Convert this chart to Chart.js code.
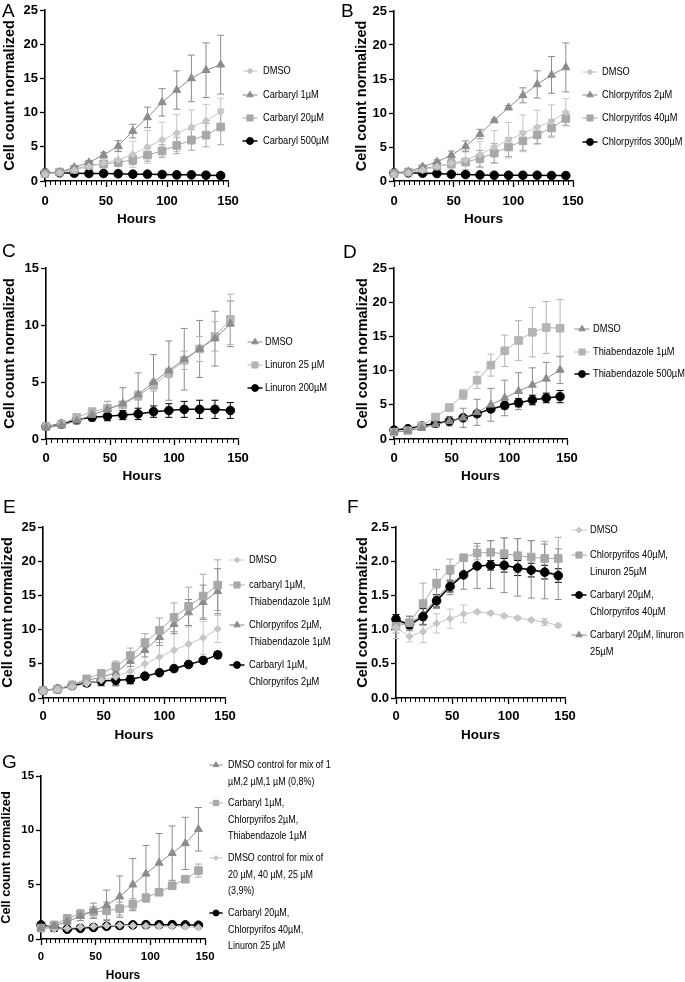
<!DOCTYPE html>
<html>
<head>
<meta charset="utf-8">
<script src="https://cdn.jsdelivr.net/npm/chart.js@4.4.1/dist/chart.umd.min.js"></script>
<style>
  html, body { margin: 0; padding: 0; background: #fff; overflow: hidden; }
  #page { position: relative; width: 685px; height: 982px; overflow: hidden; }
  .panel { position: absolute; }
</style>
</head>
<body>
<div id="page"></div>
<script>
/* ---- data ---- */
const hours = [0, 12, 24, 36, 48, 60, 72, 84, 96, 108, 120, 132, 144];

const dmsoMean = [1.0, 1.2, 1.6, 2.1, 2.6, 3.1, 3.9, 5.0, 6.0, 7.0, 7.9, 8.8, 10.1];
const dmsoSd   = [0.1, 0.15, 0.3, 0.4, 0.7, 1.4, 1.9, 2.4, 2.6, 2.7, 2.5, 2.4, 2.0];
const dmso39Mean = [1.03, 0.9, 0.97, 1.09, 1.16, 1.23, 1.26, 1.24, 1.2, 1.17, 1.14, 1.11, 1.06];
const dmso39Sd   = [0.16, 0.08, 0.16, 0.14, 0.14, 0.13, 0.02, 0.02, 0.02, 0.02, 0.02, 0.05, 0.02];

const carb1Mean   = [1.2, 1.3, 2.0, 2.7, 3.8, 5.1, 7.3, 9.3, 11.5, 13.3, 15.0, 16.2, 17.0];
const carb1Sd     = [0.1, 0.1, 0.2, 0.3, 0.4, 0.8, 1.0, 1.5, 2.0, 2.8, 3.4, 4.0, 4.3];
const carb20Mean  = [1.1, 1.3, 1.7, 2.3, 2.5, 2.7, 3.1, 3.8, 4.4, 5.2, 6.0, 6.7, 7.9];
const carb20Sd    = [0.1, 0.1, 0.2, 0.3, 0.3, 0.5, 0.7, 0.9, 0.9, 1.2, 1.5, 1.7, 2.6];
const carb500Mean = [1.2, 1.2, 1.15, 1.1, 1.1, 1.05, 1.0, 1.0, 0.95, 0.9, 0.9, 0.85, 0.8];
const carb500Sd   = [0.3, 0.3, 0.4, 0.4, 0.4, 0.4, 0.4, 0.4, 0.4, 0.4, 0.4, 0.4, 0.4];

const chl2Mean   = [1.2, 1.4, 2.1, 2.8, 3.8, 5.1, 6.9, 8.9, 10.8, 12.6, 14.2, 15.6, 16.7];
const chl2Sd     = [0.1, 0.1, 0.2, 0.3, 0.6, 0.8, 0.7, 0.2, 0.3, 1.1, 2.0, 2.7, 3.6];
const chl40Mean  = [1.1, 1.3, 1.8, 2.2, 2.5, 2.8, 3.3, 4.1, 5.0, 5.9, 6.8, 7.8, 9.2];
const chl40Sd    = [0.1, 0.1, 0.2, 0.3, 0.3, 0.5, 1.2, 1.4, 1.4, 1.4, 1.3, 1.2, 1.0];
const chl300Mean = [1.2, 1.2, 1.15, 1.1, 1.0, 0.95, 0.9, 0.85, 0.85, 0.85, 0.85, 0.8, 0.8];
const chl300Sd   = [0.1, 0.1, 0.1, 0.1, 0.1, 0.1, 0.1, 0.1, 0.1, 0.1, 0.1, 0.1, 0.1];

const lin25Mean  = [1.1, 1.3, 1.9, 2.4, 2.7, 3.0, 3.8, 4.7, 5.8, 6.9, 7.9, 9.0, 10.5];
const lin25Sd    = [0.1, 0.2, 0.2, 0.2, 0.6, 0.3, 0.4, 0.5, 0.4, 0.8, 1.1, 1.3, 2.2];
const lin200Mean = [1.1, 1.3, 1.7, 1.9, 2.0, 2.1, 2.2, 2.4, 2.5, 2.6, 2.6, 2.6, 2.5];
const lin200Sd   = [0.2, 0.2, 0.3, 0.3, 0.4, 0.4, 0.5, 0.5, 0.6, 0.7, 0.8, 0.8, 0.7];

const thi1Mean   = [1.0, 1.2, 1.9, 3.2, 4.6, 6.5, 8.6, 10.8, 12.9, 14.4, 15.6, 16.3, 16.2];
const thi1Sd     = [0.1, 0.1, 0.2, 0.3, 0.3, 0.7, 1.2, 1.6, 2.3, 2.9, 3.6, 3.8, 4.2];
const thi500Mean = [1.3, 1.5, 1.9, 2.3, 2.6, 3.1, 3.7, 4.4, 4.9, 5.3, 5.7, 6.0, 6.2];
const thi500Sd   = [0.2, 0.2, 0.3, 0.3, 0.4, 0.3, 0.4, 0.4, 0.5, 0.6, 0.7, 0.7, 0.9];

const carbThiMean = [1.1, 1.3, 1.9, 2.8, 3.6, 4.6, 6.2, 8.1, 9.9, 11.8, 13.4, 14.9, 16.5];
const carbThiSd   = [0.1, 0.1, 0.2, 0.2, 0.4, 0.8, 1.1, 1.3, 1.8, 2.1, 2.8, 3.2, 3.7];
const chlThiMean  = [1.1, 1.3, 1.9, 2.6, 3.0, 3.7, 5.4, 7.0, 8.9, 10.8, 12.5, 14.0, 15.6];
const chlThiSd    = [0.1, 0.1, 0.2, 0.2, 0.3, 0.6, 0.8, 1.0, 1.2, 1.4, 1.9, 2.5, 3.3];
const carbChlMean = [1.1, 1.3, 1.8, 2.2, 2.5, 2.6, 2.7, 3.2, 3.7, 4.3, 4.9, 5.5, 6.3];
const carbChlSd   = [0.2, 0.2, 0.3, 0.4, 0.7, 0.7, 0.6, 0.3, 0.2, 0.2, 0.3, 0.3, 0.5];

const chlLinMean  = [1.05, 1.1, 1.38, 1.68, 1.88, 2.05, 2.12, 2.13, 2.11, 2.08, 2.06, 2.04, 2.04];
const chlLinSd    = [0.1, 0.1, 0.3, 0.2, 0.15, 0.05, 0.1, 0.17, 0.23, 0.25, 0.24, 0.25, 0.31];
const carbChl2Mean = [1.15, 1.07, 1.19, 1.42, 1.63, 1.8, 1.93, 1.94, 1.94, 1.9, 1.87, 1.84, 1.79];
const carbChl2Sd   = [0.07, 0.05, 0.12, 0.09, 0.08, 0.03, 0.03, 0.07, 0.1, 0.11, 0.1, 0.1, 0.1];
const carbLinMean  = [1.1, 1.09, 1.22, 1.46, 1.66, 1.82, 1.93, 1.95, 1.94, 1.91, 1.88, 1.85, 1.81];
const carbLinSd    = [0.1, 0.1, 0.15, 0.15, 0.15, 0.23, 0.33, 0.35, 0.4, 0.42, 0.42, 0.4, 0.37];

const mixLowMean  = [1.0, 1.3, 1.9, 2.3, 2.5, 2.6, 2.8, 3.2, 3.8, 4.3, 4.9, 5.5, 6.3];
const mixLowSd    = [0.2, 0.3, 0.3, 0.4, 0.5, 0.8, 0.6, 0.5, 0.2, 0.2, 0.2, 0.2, 0.6];
const mixHighMean = [1.3, 1.05, 0.9, 0.98, 1.07, 1.17, 1.24, 1.3, 1.32, 1.32, 1.32, 1.3, 1.27];
const mixHighSd   = [0.15, 0.35, 0.2, 0.15, 0.15, 0.1, 0.1, 0.1, 0.2, 0.2, 0.15, 0.15, 0.1];

const labelsA = ['DMSO', 'Carbaryl 1µM', 'Carbaryl 20µM', 'Carbaryl 500µM'];
const labelsB = ['DMSO', 'Chlorpyrifos 2µM', 'Chlorpyrifos 40µM', 'Chlorpyrifos 300µM'];
const labelsC = ['DMSO', 'Linuron 25 µM', 'Linuron 200µM'];
const labelsD = ['DMSO', 'Thiabendazole 1µM', 'Thiabendazole 500µM'];
const labelsE = [['DMSO'], ['carbaryl 1µM,', 'Thiabendazole 1µM'], ['Chlorpyrifos 2µM,', 'Thiabendazole 1µM'], ['Carbaryl 1µM,', 'Chlorpyrifos 2µM']];
const labelsF = [['DMSO'], ['Chlorpyrifos 40µM,', 'Linuron 25µM'], ['Carbaryl 20µM,', 'Chlorpyrifos 40µM'], ['Carbaryl 20µM, linuron', '25µM']];
const labelsG = [['DMSO control for mix of 1', 'µM,2 µM,1 µM (0,8%)'], ['Carbaryl 1µM,', 'Chlorpyrifos 2µM,', 'Thiabendazole 1µM'],
                 ['DMSO control for mix of', '20 µM, 40 µM, 25 µM', '(3,9%)'], ['Carbaryl 20µM,', 'Chlorpyrifos 40µM,', 'Linuron 25 µM']];

/* ---- fonts ---- */
const probe = document.createElement('canvas').getContext('2d');
function probeWidth(font) { probe.font = font; return probe.measureText('Carbaryl 500µM').width; }
const HAS_NARROW = probeWidth('12px "Liberation Sans Narrow", monospace') !== probeWidth('12px monospace');
const NARROW = HAS_NARROW ? '"Liberation Sans Narrow", "Liberation Sans", Arial, sans-serif' : '"Liberation Sans", Arial, sans-serif';
const SQUEEZE = HAS_NARROW ? 1 : 0.82;
const SANS = '"Liberation Sans", Arial, sans-serif';

/* ---- marker styles ---- */
const STYLES = {
  light:   { color: '#c6c6c6', pointStyle: 'rectRot',  radius: 3.6, width: 1 },
  tri:     { color: '#8c8c8c', pointStyle: 'triangle', radius: 4.6, width: 1 },
  sq:      { color: '#a8a8a8', pointStyle: 'rect',     radius: 5.4, width: 1 },
  sqLight: { color: '#b4b4b4', pointStyle: 'rect',     radius: 5.4, width: 1 },
  dot:     { color: '#000000', pointStyle: 'circle',   radius: 4.3, width: 1.5 }
};

function series(style, label, mean, sd) {
  const st = STYLES[style];
  return {
    label: [].concat(label),
    data: hours.map((h, i) => ({ x: h, y: mean[i] })),
    sd,
    borderColor: st.color, backgroundColor: st.color,
    borderWidth: st.width, pointBorderWidth: 1,
    pointStyle: st.pointStyle, pointRadius: st.radius, pointHoverRadius: st.radius,
    tension: 0, clip: false
  };
}

const panels = [
  { letter: 'A', letterAt: [2, 17], box: [0, 0, 340, 230], area: [45, 10, 228, 181], titleCx: 10, tickCy: 201, hoursCy: 219, yMax: 25, yStep: 5,
    legend: { mx: 250, tx: 263, ys: [71, 95, 118, 141], lh: 17, size: 11.3 },
    sets: [series('light', labelsA[0], dmsoMean, dmsoSd), series('tri', labelsA[1], carb1Mean, carb1Sd),
           series('sq', labelsA[2], carb20Mean, carb20Sd), series('dot', labelsA[3], carb500Mean, carb500Sd)] },
  { letter: 'B', letterAt: [341, 17], box: [340, 0, 345, 230], area: [394, 11, 573, 181], titleCx: 362, tickCy: 201, hoursCy: 219, yMax: 25, yStep: 5,
    legend: { mx: 590, tx: 602, ys: [72, 95, 118, 142], lh: 17, size: 11.3 },
    sets: [series('light', labelsB[0], dmsoMean, dmsoSd), series('tri', labelsB[1], chl2Mean, chl2Sd),
           series('sq', labelsB[2], chl40Mean, chl40Sd), series('dot', labelsB[3], chl300Mean, chl300Sd)] },
  { letter: 'C', letterAt: [2, 257], box: [0, 230, 340, 250], area: [46, 268, 238, 439], titleCx: 10, tickCy: 458, hoursCy: 476, yMax: 15, yStep: 5,
    legend: { mx: 255, tx: 265, ys: [342, 365, 388], lh: 17, size: 11.3 },
    sets: [series('tri', labelsC[0], dmsoMean, dmsoSd), series('sqLight', labelsC[1], lin25Mean, lin25Sd),
           series('dot', labelsC[2], lin200Mean, lin200Sd)] },
  { letter: 'D', letterAt: [343, 258], box: [340, 230, 345, 250], area: [394, 268, 567, 439], titleCx: 363, tickCy: 458, hoursCy: 476, yMax: 25, yStep: 5,
    legend: { mx: 582, tx: 593, ys: [329, 352, 374], lh: 17, size: 11.3 },
    sets: [series('tri', labelsD[0], dmsoMean, dmsoSd), series('sqLight', labelsD[1], thi1Mean, thi1Sd),
           series('dot', labelsD[2], thi500Mean, thi500Sd)] },
  { letter: 'E', letterAt: [3, 513], box: [0, 460, 340, 290], area: [43, 527, 225, 698], titleCx: 8, tickCy: 716, hoursCy: 735, yMax: 25, yStep: 5,
    legend: { mx: 237, tx: 249, ys: [560, 585, 625, 665], lh: 17, size: 11.3 },
    sets: [series('light', labelsE[0], dmsoMean, dmsoSd), series('sq', labelsE[1], carbThiMean, carbThiSd),
           series('tri', labelsE[2], chlThiMean, chlThiSd), series('dot', labelsE[3], carbChlMean, carbChlSd)] },
  { letter: 'F', letterAt: [347, 513], box: [340, 460, 345, 290], area: [396, 527, 565, 698], titleCx: 363, tickCy: 716, hoursCy: 735, yMax: 2.5, yStep: 0.5, yDec: 1,
    legend: { mx: 579, tx: 590, ys: [530, 555, 595, 635], lh: 17, size: 11.3 },
    sets: [series('light', labelsF[0], dmso39Mean, dmso39Sd), series('sq', labelsF[1], chlLinMean, chlLinSd),
           series('dot', labelsF[2], carbChl2Mean, carbChl2Sd), series('tri', labelsF[3], carbLinMean, carbLinSd)] },
  { letter: 'G', letterAt: [2, 768], box: [0, 690, 345, 300], area: [41, 776, 205, 939], titleCx: 6, tickCy: 957, hoursCy: 976, yMax: 15, yStep: 5, scale: 0.88,
    legend: { mx: 216, tx: 228, ys: [765, 803, 858, 913], lh: 16.5, size: 10.9 },
    sets: [series('tri', labelsG[0], dmsoMean, dmsoSd), series('sq', labelsG[1], mixLowMean, mixLowSd),
           series('light', labelsG[2], dmso39Mean, dmso39Sd), series('dot', labelsG[3], mixHighMean, mixHighSd)] }
];

/* ---- plugins ---- */
const errorBars = {
  id: 'errorBars',
  beforeDatasetsDraw(chart) {
    const { ctx, scales: { x, y } } = chart;
    chart.data.datasets.forEach(ds => {
      ctx.save();
      ctx.strokeStyle = ds.borderColor;
      ctx.lineWidth = 1;
      ctx.beginPath();
      ds.data.forEach((pt, j) => {
        const px = x.getPixelForValue(pt.x);
        const hi = y.getPixelForValue(pt.y + ds.sd[j]);
        const lo = y.getPixelForValue(pt.y - ds.sd[j]);
        ctx.moveTo(px, hi); ctx.lineTo(px, lo);
        ctx.moveTo(px - 3.5, hi); ctx.lineTo(px + 3.5, hi);
        ctx.moveTo(px - 3.5, lo); ctx.lineTo(px + 3.5, lo);
      });
      ctx.stroke();
      ctx.restore();
    });
  }
};

function squeezedText(ctx, text, x, y) {
  ctx.save();
  ctx.translate(x, y);
  ctx.scale(SQUEEZE, 1);
  ctx.fillText(text, 0, 0);
  ctx.restore();
}

function decorPlugin(p) {
  const [bx, by] = p.box;
  const s = p.scale || 1;
  return {
    id: 'decor',
    afterDraw(chart) {
      const ctx = chart.ctx;
      const xs = chart.scales.x, bottom = chart.chartArea.bottom;
      ctx.save();
      // minor x ticks
      ctx.strokeStyle = '#000'; ctx.lineWidth = 1;
      ctx.beginPath();
      for (let k = 1; k < 36; k++) {
        if (k % 12 === 0) continue;
        const px = Math.round(xs.getPixelForValue(k * 50 / 12)) + 0.5;
        ctx.moveTo(px, bottom); ctx.lineTo(px, bottom + 4);
      }
      ctx.stroke();
      // legend
      const lg = p.legend;
      chart.data.datasets.forEach((ds, i) => {
        const cy = lg.ys[i] - by, mx = lg.mx - bx;
        ctx.strokeStyle = ds.borderColor; ctx.fillStyle = ds.backgroundColor;
        ctx.lineWidth = ds.borderWidth;
        ctx.beginPath(); ctx.moveTo(mx - 7.5 * s, cy); ctx.lineTo(mx + 7.5 * s, cy); ctx.stroke();
        ctx.lineWidth = 1;
        Chart.helpers.drawPoint(ctx, { pointStyle: ds.pointStyle, radius: ds.pointRadius * 0.8 * s, borderWidth: 1, rotation: 0 }, mx, cy);
        ctx.fillStyle = '#000';
        ctx.font = lg.size + 'px ' + NARROW;
        ctx.textBaseline = 'middle'; ctx.textAlign = 'left';
        ds.label.forEach((line, k) => squeezedText(ctx, line, lg.tx - bx, cy + k * lg.lh));
      });
      // panel letter
      ctx.fillStyle = '#000';
      ctx.font = '19px ' + SANS;
      ctx.textBaseline = 'alphabetic'; ctx.textAlign = 'left';
      ctx.fillText(p.letter, p.letterAt[0] - bx, p.letterAt[1] - by);
      ctx.restore();
    }
  };
}

/* ---- build charts ---- */
const page = document.getElementById('page');

panels.forEach(p => {
  const [bx, by, bw, bh] = p.box;
  const [l, t, r, b] = p.area;
  const s = p.scale || 1;
  const wrap = document.createElement('div');
  wrap.className = 'panel';
  wrap.style.cssText = `left:${bx}px;top:${by}px;width:${bw}px;height:${bh}px`;
  const canvas = document.createElement('canvas');
  canvas.width = bw; canvas.height = bh;
  wrap.appendChild(canvas);
  page.appendChild(wrap);

  const tickSize = 13 * s, hoursSize = 13.5 * s, yTitleSize = 14.5 * s;
  const axisCommon = {
    grid: { drawOnChartArea: false, drawTicks: true, tickColor: '#000', tickWidth: 1.3 },
    border: { display: true, color: '#000', width: 1.6 }
  };

  new Chart(canvas, {
    type: 'line',
    data: { datasets: p.sets },
    options: {
      responsive: false,
      animation: false,
      events: [],
      layout: { padding: { left: 0, top: t - by, right: bx + bw - r, bottom: 0 } },
      plugins: { legend: { display: false }, tooltip: { enabled: false } },
      scales: {
        x: {
          type: 'linear', min: 0, max: 150,
          ...axisCommon,
          grid: { ...axisCommon.grid, tickLength: 6 },
          ticks: { stepSize: 50, color: '#000', maxRotation: 0, autoSkip: false,
                   font: { family: NARROW, size: tickSize, weight: 'bold' },
                   padding: p.tickCy - b - 6 - 0.6 * tickSize },
          title: { display: true, text: 'Hours', color: '#000',
                   font: { family: NARROW, size: hoursSize, weight: 'bold' },
                   padding: { top: 0, bottom: by + bh - p.hoursCy - 0.6 * hoursSize } },
          afterFit: sc => { sc.height = by + bh - b; }
        },
        y: {
          type: 'linear', min: 0, max: p.yMax,
          ...axisCommon,
          grid: { ...axisCommon.grid, tickLength: 5 },
          ticks: { stepSize: p.yStep, color: '#000', padding: 2,
                   font: { family: NARROW, size: tickSize, weight: 'bold' },
                   callback: v => p.yDec ? v.toFixed(1) : v },
          title: { display: true, text: 'Cell count normalized', color: '#000',
                   font: { family: SANS, size: yTitleSize, weight: 'bold' },
                   padding: { top: p.titleCx - bx - 0.6 * yTitleSize, bottom: 0 } },
          afterFit: sc => { sc.width = l - bx; }
        }
      }
    },
    plugins: [errorBars, decorPlugin(p)]
  });
});
</script>
</body>
</html>
